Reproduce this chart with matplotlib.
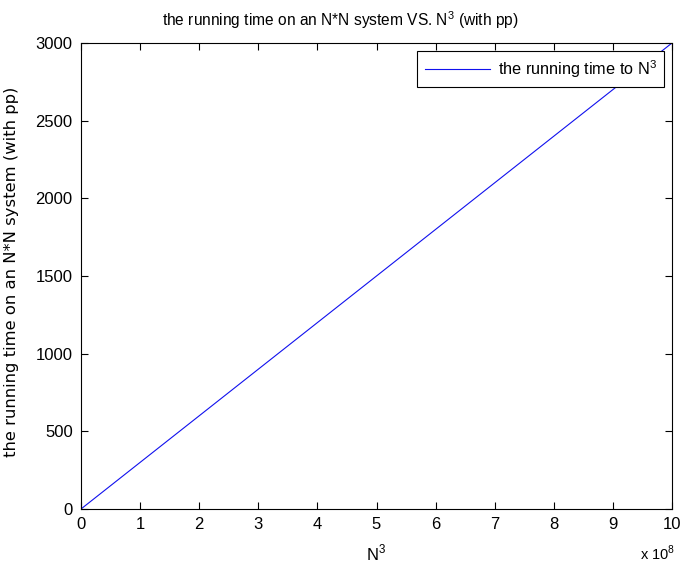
import matplotlib
matplotlib.use("Agg")
import matplotlib.pyplot as plt

plt.rcParams['font.family'] = ['Liberation Sans', 'DejaVu Sans']
plt.rcParams['mathtext.fontset'] = 'custom'
plt.rcParams['mathtext.rm'] = 'Liberation Sans'

# data (N^3 vs running time)
n_cubed = [0.0, 2.0e8, 4.0e8, 6.0e8, 8.0e8, 10.0e8]
run_time = [0, 600, 1200, 1800, 2400, 3000]

x_ticks = [0, 1e8, 2e8, 3e8, 4e8, 5e8, 6e8, 7e8, 8e8, 9e8, 10e8]
x_tick_labels = ['0', '1', '2', '3', '4', '5', '6', '7', '8', '9', '10']
y_ticks = [0, 500, 1000, 1500, 2000, 2500, 3000]
y_tick_labels = ['0', '500', '1000', '1500', '2000', '2500', '3000']

W, H = 683, 565
fig = plt.figure(figsize=(W / 100, H / 100), dpi=100)
ax = fig.add_axes([81 / W, 1 - 509 / H, (672 - 81) / W, (509 - 43) / H])

ax.plot(n_cubed, run_time, color='#1010ee', linewidth=0.8, label='the running time to N$^3$')
ax.set_xlim(0, 10e8)
ax.set_ylim(0, 3000)
ax.set_xticks(x_ticks)
ax.set_xticklabels(x_tick_labels)
ax.set_yticks(y_ticks)
ax.set_yticklabels(y_tick_labels)
ax.tick_params(direction='in', top=True, right=True, length=5, width=0.8, labelsize=12)
ax.tick_params(axis='x', pad=6)
ax.tick_params(axis='y', pad=6)
for s in ax.spines.values():
    s.set_linewidth(0.8)

fig.text(340 / W, 1 - 20 / H, 'the running time on an N*N system VS. N$^3$ (with pp)',
         fontsize=11.2, ha='center', va='center')
fig.text(376 / W, 1 - 560 / H, 'N$^3$', fontsize=12, ha='center', va='baseline')
fig.text(12 / W, 1 - 272 / H, 'the running time on an N*N system (with pp)',
         fontsize=11.8, family=['DejaVu Sans'], rotation=90, ha='center', va='center')
fig.text(675 / W, 1 - 560 / H, 'x 10$^8$', fontsize=10.5, ha='right', va='baseline')

leg = ax.legend(loc='upper right', fontsize=11.7, fancybox=False, framealpha=1,
                edgecolor='black', handlelength=4, borderaxespad=0.5, borderpad=0.45,
                handletextpad=0.5)
leg.get_frame().set_linewidth(0.8)

fig.savefig('out.png', dpi=100)
